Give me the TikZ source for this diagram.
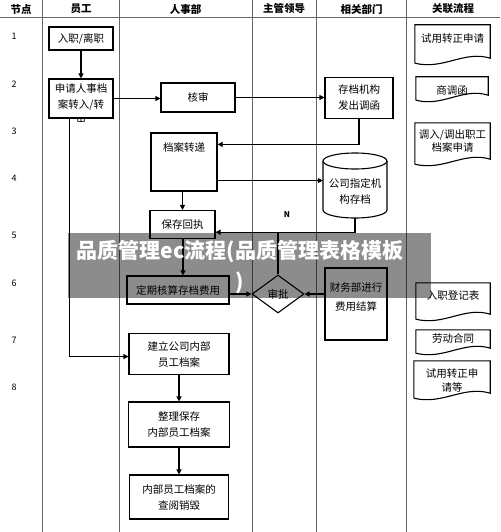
\documentclass[tikz,border=0pt]{standalone}
\usepackage{fontspec}
\setmainfont{Noto Sans CJK SC}
\usetikzlibrary{arrows.meta,shapes.geometric,calc}
\begin{document}
\begin{tikzpicture}[x=1pt,y=-1pt,
  box/.style={draw, line width=1.1pt, fill=white, inner sep=0pt, align=center,
    font=\fontsize{10.5}{16}\selectfont},
  txt/.style={inner sep=0pt, align=center, font=\fontsize{10.5}{16}\selectfont},
  doc/.style={inner sep=0pt, draw=none},
  docline/.style={line width=1.1pt},
  head/.style={inner sep=0pt, font=\fontsize{10.5}{12}\bfseries\selectfont},
  rownum/.style={inner sep=0pt, font=\fontsize{9}{10}\selectfont},
  colline/.style={black!60, line width=0.9pt},
  arr/.style={line width=1.1pt, -{Triangle[length=5pt,width=5pt]}},
  plain/.style={line width=1.1pt}
]
\useasboundingbox (0,0) rectangle (500,532);
\fill[white] (0,0) rectangle (500,532);

% table grid
\foreach \cx in {42,119,252,316,406} {\draw[colline] (\cx,0) -- (\cx,532);}
\draw[colline] (0,17) -- (500,17);

% headers
\node[head] (h1) at (21,9) {节点};
\node[head] (h2) at (81,9) {员工};
\node[head] (h3) at (185.5,9) {人事部};
\node[head] (h4) at (284,9) {主管领导};
\node[head] (h5) at (361.5,9) {相关部门};
\node[head] (h6) at (453,9) {关联流程};

% row numbers
\node[rownum] (r1) at (14,36) {1};
\node[rownum] (r2) at (14,84) {2};
\node[rownum] (r3) at (14,131) {3};
\node[rownum] (r4) at (14,178) {4};
\node[rownum] (r5) at (14,235) {5};
\node[rownum] (r6) at (14,283) {6};
\node[rownum] (r7) at (14,340) {7};
\node[rownum] (r8) at (14,387) {8};

% process boxes
\node[box, minimum width=64pt, minimum height=23pt] (n1) at (81,38.5) {入职/离职};
\node[box, minimum width=64pt, minimum height=39pt] (n2) at (81,98.5) {};
\node[txt] (n2t) at (81,97.5) {申请人事档\\案转入/转};
\begin{scope}
  \clip (49,117) rectangle (113,121);
  \node[txt] (n2c) at (81,123) {出};
\end{scope}
\node[box, minimum width=74pt, minimum height=29pt] (n3) at (198,97.5) {核审};
\node[box, minimum width=68pt, minimum height=41pt] (n4) at (359,98) {存档机构\\发出调函};
\node[box, minimum width=66pt, minimum height=58pt] (n5) at (184,162) {};
\node[txt] (n5t) at (184,147) {档案转递};
\node[box, minimum width=65pt, minimum height=28pt] (n6) at (182.5,224.5) {保存回执};
\node[box, minimum width=102pt, minimum height=28pt] (n7) at (178,290) {定期核算存档费用};
\node[draw, line width=1.1pt, fill=white, diamond, inner sep=0pt, minimum width=52pt, minimum height=38pt,
  font=\fontsize{10.5}{12}\selectfont] (dia) at (278,294) {审批};
\node[box, minimum width=62pt, minimum height=72pt] (n8) at (356,304) {};
\node[txt, font=\fontsize{10.5}{19}\selectfont] (n8t) at (356,297.5) {财务部进行\\费用结算};
\node[box, minimum width=100pt, minimum height=41pt] (n9) at (179,354) {建立公司内部\\员工档案};
\node[box, minimum width=101pt, minimum height=45pt] (n10) at (179,424.5) {整理保存\\内部员工档案};
\node[box, minimum width=99pt, minimum height=44pt] (n11) at (179,497) {内部员工档案的\\查阅销毁};

% cylinder
\node[doc, minimum width=64pt, minimum height=65pt] (cyl) at (355,185.5) {};
\draw[docline, fill=white] (323,161) -- (323,210) arc[start angle=180, end angle=360, x radius=32, y radius=-8]
  -- (387,161) arc[start angle=0, end angle=180, x radius=32, y radius=-8] -- cycle;
\draw[docline] (323,161) arc[start angle=180, end angle=360, x radius=32, y radius=-8];
\node[txt] (cylt) at (355,191.5) {公司指定机\\构存档};

% related documents
\newcommand\docshape[1]{%
  \draw[docline] (#1.south west) -- (#1.north west) -- (#1.north east) -- ($(#1.south east)+(0,-5)$)
   .. controls ($(#1.south east)!0.35!(#1.south west)+(0,-13)$) and ($(#1.south east)!0.62!(#1.south west)+(0,7)$) .. (#1.south west);}
\node[doc, minimum width=75pt, minimum height=38pt] (d1) at (452.5,44) {};
\docshape{d1}
\node[txt] (d1t) at (452.5,39) {试用转正申请};
\node[doc, minimum width=72pt, minimum height=23pt] (d2) at (452,88.5) {};
\docshape{d2}
\node[txt] (d2t) at (452,90) {商调函};
\node[doc, minimum width=75pt, minimum height=41pt] (d3) at (452.5,143.5) {};
\docshape{d3}
\node[txt, font=\fontsize{10.5}{13}\selectfont] (d3t) at (452.5,141) {调入/调出职工\\档案申请};
\node[doc, minimum width=74pt, minimum height=36pt] (d4) at (453,301) {};
\docshape{d4}
\node[txt] (d4t) at (453,296) {入职登记表};
\node[doc, minimum width=74pt, minimum height=23pt] (d5) at (453,341.5) {};
\docshape{d5}
\node[txt] (d5t) at (453,339) {劳动合同};
\node[doc, minimum width=76pt, minimum height=37pt] (d6) at (452,379.5) {};
\docshape{d6}
\node[txt, font=\fontsize{10.5}{14}\selectfont] (d6t) at (452,380) {试用转正申\\请等};

% connectors
\draw[arr] (n1.south) -- (n2.north);
\draw[arr] (n2.east) -- (n2.east -| n3.west);
\draw[arr] (n3.east) -- (n3.east -| n4.west);
\coordinate (a4) at ($(n5.north east)+(0,12)$);
\draw[arr] (n4.south) |- (a4);
\coordinate (a5) at ($(n5.south east)+(0,-11)$);
\draw[arr] (a5) -- (a5 -| cyl.west);
\draw[arr] (n5.south -| n6) -- (n6.north);
\coordinate (j7) at ($(cyl.south)+(0,14)$);
\draw[arr] (cyl.south) -- (j7) -- (j7 -| n6.east);
\draw[plain] (dia.north) -- (dia.north |- j7);
\node[inner sep=0pt, font=\fontsize{8}{9}\bfseries\selectfont] (nlab) at (287,215) {N};
\coordinate (a9) at ($(n6.south)+(0.5,0)$);
\draw[arr] (a9) -- (a9 |- n7.north);
\draw[arr] (n7.east |- dia.west) -- (dia.west);
\draw[arr] (n8.west |- dia.east) -- (dia.east);
\coordinate (j12) at ($(n2.south west)+(21,238)$);
\draw[arr] (n2.south -| j12) -- (j12) -- (j12 -| n9.west);
\draw[arr] (n9.south) -- (n10.north);
\draw[arr] (n10.south) -- (n11.north);

% watermark band
\fill[black, opacity=0.45] (68,233) rectangle (431,298);
\node[inner sep=0pt, align=center, text=white, font=\fontsize{21}{31}\bfseries\selectfont] (wm) at (240,267) {品质管理ec流程(品质管理表格模板\\)};
\end{tikzpicture}
\end{document}
